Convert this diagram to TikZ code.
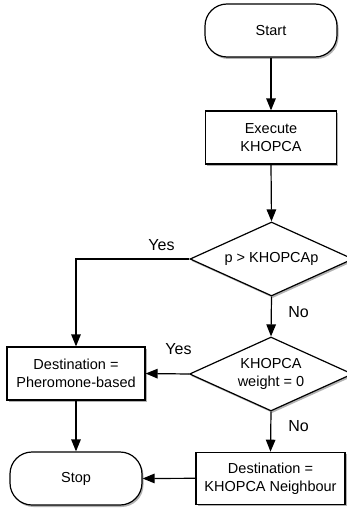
\documentclass[tikz,border=0pt]{standalone}
\usepackage{fontspec}
\setmainfont{Liberation Sans}
\usetikzlibrary{arrows.meta,shapes.geometric,shadows}
\begin{document}
\begin{tikzpicture}[x=1pt,y=-1pt,
  every node/.style={font=\fontsize{14.5}{18}\selectfont, align=center, inner sep=0pt},
  shad/.style={drop shadow={shadow xshift=1.5pt, shadow yshift=-2pt, fill=black, opacity=0.3}},
  procbox/.style={draw, line width=1.2pt, fill=white, shad, rectangle, minimum height=53pt},
  termbox/.style={draw, line width=1.2pt, fill=white, shad, rectangle, rounded corners=22pt, minimum width=132pt, minimum height=53pt},
  decbox/.style={draw, line width=1.2pt, fill=white, shad, diamond, aspect=2.2, minimum width=163pt, minimum height=74pt},
  flow/.style={line width=1.2pt, -{Triangle[length=12pt,width=9.5pt]}},
  lbl/.style={font=\fontsize{16}{18}\selectfont, anchor=base}
]
\useasboundingbox (0,0) rectangle (347,511);
\node[termbox] (start) at (271,30.5) {Start};
\node[procbox, minimum width=131pt] (exec) at (271,137.5) {Execute\\KHOPCA};
\node[decbox] (d1) at (271.5,259) {p > KHOPCAp};
\node[decbox] (d2) at (271,374) {KHOPCA\\weight = 0};
\node[procbox, minimum width=138pt] (pher) at (76,373.5) {Destination =\\Pheromone-based};
\node[termbox] (stop) at (76,478.5) {Stop};
\node[procbox, minimum width=149pt, minimum height=52pt] (nb) at (270.5,478.3) {Destination =\\KHOPCA Neighbour};

\draw[flow] (start.south) -- (exec.north);
\draw[flow] (exec.south) -- (d1.north);
\draw[flow] (d1.west) -| (pher.north);
\draw[flow] (d1.south) -- (d2.north);
\draw[flow] (d2.west) -- (pher.east);
\draw[flow] (pher.south) -- (stop.north);
\draw[flow] (d2.south) -- (nb.north);
\draw[flow] (nb.west) -- (stop.east);

\node[lbl] (yes1) at (161.5,250) {Yes};
\node[lbl] (no1) at (298.5,317) {No};
\node[lbl] (yes2) at (178.5,354) {Yes};
\node[lbl] (no2) at (298.5,431.5) {No};
\end{tikzpicture}
\end{document}
